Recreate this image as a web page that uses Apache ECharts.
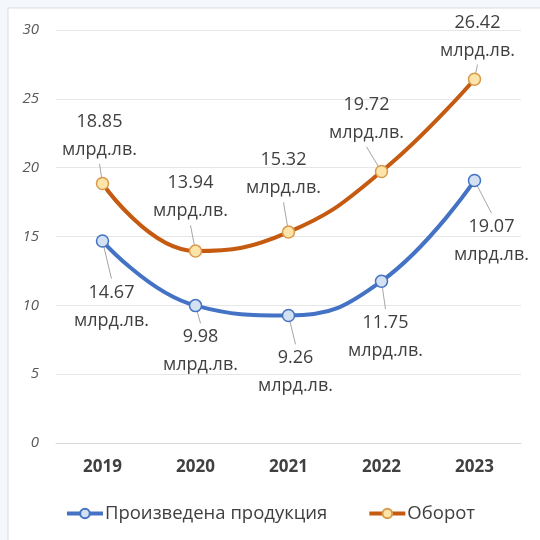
<!DOCTYPE html>
<html>
<head>
    <meta charset="UTF-8">
    <title>Произведена продукция и оборот</title>
    <script type="text/javascript" src="https://cdn.jsdelivr.net/npm/echarts@6/dist/echarts.min.js"></script>
    <style>
        html, body { margin: 0; padding: 0; background: #f4f8fc; }
        #chart { width: 540px; height: 540px; }
    </style>
</head>
<body>
<div id="chart"></div>
<script type="text/javascript">
    var years = ['2019', '2020', '2021', '2022', '2023'];
    var production = [14.67, 9.98, 9.26, 11.75, 19.07];   // Произведена продукция
    var turnover = [18.85, 13.94, 15.32, 19.72, 26.42];   // Оборот
    var yTicks = [0, 5, 10, 15, 20, 25, 30];
    var unit = 'млрд.лв.';

    // label shifts (px) from the default top/bottom spot
    var prodShift = [[9, 26], [5, 6], [7, 17], [4, 16], [17, 21]];
    var turnShift = [[-3, -8], [-5, -14], [-5, -18], [-15, -13], [3, -3]];

    var myChart = echarts.init(document.getElementById('chart'));
    var font = '"Open Sans", "Noto Sans", sans-serif';

    function labelCfg(pos) {
        return {
            show: true,
            position: pos,
            distance: 5,
            color: '#404040',
            fontSize: 18,
            lineHeight: 28,
            fontFamily: font,
            formatter: function (p) { return p.value.toFixed(2) + '\n' + unit; }
        };
    }

    function shifter(shift) {
        return function (params) {
            var s = shift[params.dataIndex];
            return { dx: s[0], dy: s[1] };
        };
    }

    myChart.setOption({
        backgroundColor: '#f4f8fc',
        animation: false,
        graphic: [{
            type: 'rect',
            silent: true,
            z: -10,
            shape: { x: 8, y: 8, width: 560, height: 560 },
            style: { fill: '#ffffff', stroke: '#d9dde2', lineWidth: 1 }
        }],
        grid: { left: 56, right: 19, top: 30, bottom: 97 },
        legend: {
            bottom: 12,
            left: 'center',
            itemGap: 40,
            itemWidth: 36,
            itemHeight: 12,
            lineStyle: { width: 4 },
            textStyle: { color: '#404040', fontSize: 18.5, fontFamily: font, padding: [0, 0, 0, -3] },
            data: ['Произведена продукция', 'Оборот']
        },
        xAxis: {
            type: 'category',
            data: years,
            boundaryGap: true,
            axisLine: { lineStyle: { color: '#d9d9d9', width: 1 } },
            axisTick: { show: false },
            axisLabel: { color: '#404040', fontWeight: 'bold', fontSize: 17, margin: 16, fontFamily: font }
        },
        yAxis: {
            type: 'value',
            min: yTicks[0],
            max: yTicks[yTicks.length - 1],
            interval: 5,
            axisLine: { show: false },
            axisTick: { show: false },
            splitLine: { lineStyle: { color: '#e6e6e6', width: 1 } },
            axisLabel: { color: '#595959', fontStyle: 'italic', fontSize: 15, margin: 17, fontFamily: font }
        },
        series: [{
            name: 'Произведена продукция',
            type: 'line',
            data: production,
            smooth: 0.45,
            symbol: 'circle',
            symbolSize: 12,
            color: '#4472c4',
            lineStyle: { width: 4, color: '#4472c4' },
            itemStyle: { color: '#d4e1f3', borderColor: '#4472c4', borderWidth: 1.5 },
            label: labelCfg('bottom'),
            labelLayout: shifter(prodShift),
            labelLine: { show: true, lineStyle: { color: '#a6a6a6', width: 1 } },
            z: 3
        }, {
            name: 'Оборот',
            type: 'line',
            data: turnover,
            smooth: 0.45,
            symbol: 'circle',
            symbolSize: 12,
            color: '#c55a11',
            lineStyle: { width: 4, color: '#c55a11' },
            itemStyle: { color: '#fde4a8', borderColor: '#d99a4e', borderWidth: 1.5 },
            label: labelCfg('top'),
            labelLayout: shifter(turnShift),
            labelLine: { show: true, lineStyle: { color: '#a6a6a6', width: 1 } },
            z: 3
        }]
    });
</script>
</body>
</html>
